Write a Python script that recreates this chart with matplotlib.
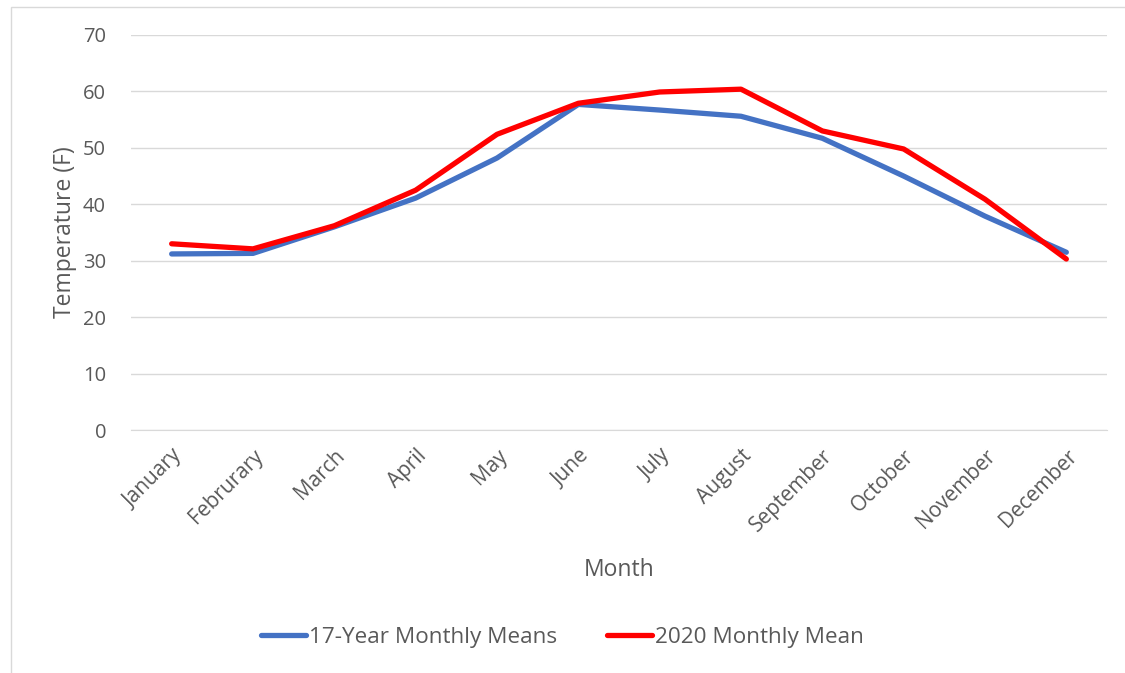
import matplotlib.pyplot as plt
from matplotlib.patches import Rectangle

months = ['January', 'Februrary', 'March', 'April', 'May', 'June', 'July',
          'August', 'September', 'October', 'November', 'December']
mean_17yr = [31.2, 31.3, 36.0, 41.1, 48.2, 57.7, 56.7, 55.6, 51.7, 45.0, 37.9, 31.5]
mean_2020 = [33.0, 32.1, 36.2, 42.5, 52.4, 57.9, 59.9, 60.4, 53.0, 49.8, 40.9, 30.3]
yticks = [0, 10, 20, 30, 40, 50, 60, 70]

text_color = '#595959'
grid_color = '#D9D9D9'
plt.rcParams['font.family'] = ['Open Sans', 'DejaVu Sans']

fig = plt.figure(figsize=(11.25, 6.73), dpi=100)
fig.patches.append(Rectangle((11 / 1125, -0.01), 1.2, 1 - 7 / 673 + 0.01,
                             transform=fig.transFigure, fill=False,
                             edgecolor=grid_color, linewidth=1))
ax = fig.add_axes([131 / 1125, 1 - 430 / 673, (1107 - 131) / 1125, (430 - 35) / 673])

x = list(range(len(months)))
ax.plot(x, mean_17yr, color='#4472C4', linewidth=3.8, solid_capstyle='round',
        label='17-Year Monthly Means')
ax.plot(x, mean_2020, color='#FF0000', linewidth=3.8, solid_capstyle='round',
        label='2020 Monthly Mean')

ax.set_xlim(-0.5, len(months) - 0.5)
ax.set_ylim(0, 70)
ax.set_yticks(yticks)
ax.set_xticks(x)
ax.set_xticklabels(months, rotation=45, ha='right', rotation_mode='anchor')
ax.tick_params(axis='both', length=0, labelsize=14.5, colors=text_color)
ax.tick_params(axis='x', labelsize=15)
ax.tick_params(axis='y', pad=18)
ax.tick_params(axis='x', pad=11)
ax.grid(axis='y', color=grid_color, linewidth=1)
ax.set_axisbelow(True)
for side in ['top', 'right', 'left']:
    ax.spines[side].set_visible(False)
ax.spines['bottom'].set_color(grid_color)

ax.set_ylabel('Temperature (F)', fontsize=16.5, color=text_color, labelpad=4)
ax.set_xlabel('Month', fontsize=16.5, color=text_color, labelpad=16)

fig.legend(loc='center', bbox_to_anchor=(0.5, 1 - 637 / 673), ncol=2, frameon=False,
           fontsize=16.2, labelcolor=text_color, handlelength=2.0, handletextpad=0.15,
           columnspacing=2.2)

fig.savefig('out.png', dpi=100)
